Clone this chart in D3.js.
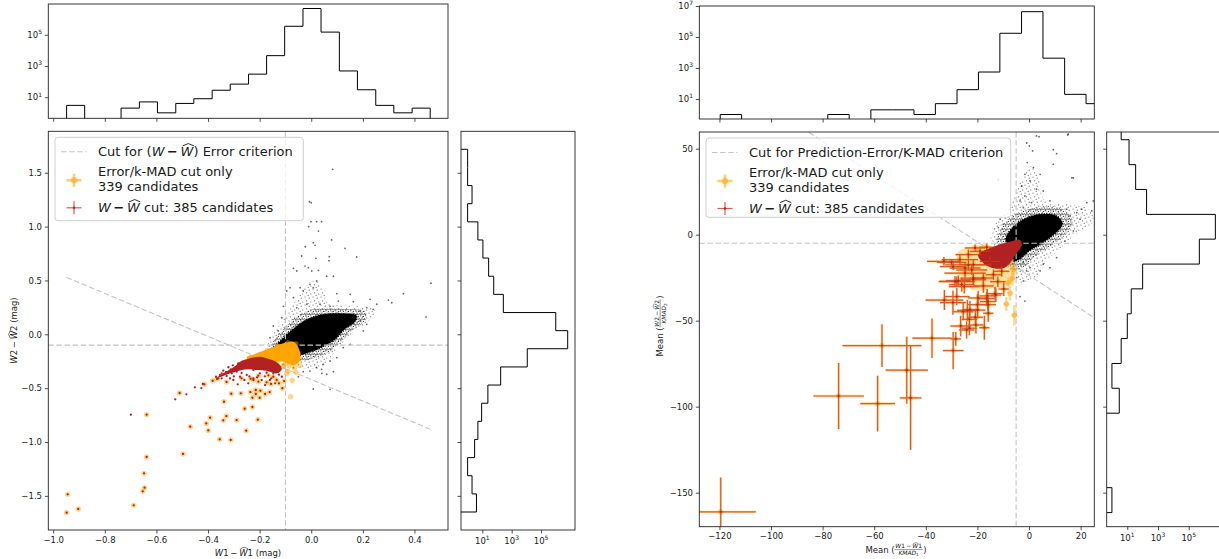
<!DOCTYPE html>
<html>
<head>
<meta charset="utf-8">
<script src="https://cdn.jsdelivr.net/npm/d3@7"></script>
<style>
  html, body { margin: 0; padding: 0; background: #fff; }
  svg { display: block; font-family: "DejaVu Sans", "Liberation Sans", sans-serif; }
</style>
</head>
<body>
<svg id="fig" width="1219" height="559"></svg>
<script>
// ================= Left panel: W - What residuals (mag) =================
const leftXTicks = [-1.0, -0.8, -0.6, -0.4, -0.2, 0.0, 0.2, 0.4];
const leftYTicks = [-1.5, -1.0, -0.5, 0.0, 0.5, 1.0, 1.5];
const leftTopEdges = [-0.948, -0.878, -0.807, -0.737, -0.666, -0.596, -0.525, -0.455, -0.384, -0.314, -0.243,
  -0.173, -0.103, -0.032, 0.038, 0.109, 0.179, 0.250, 0.320, 0.391, 0.461];
const leftTopCounts = [3, 0, 0, 2, 5, 1, 4, 8, 28, 69, 300, 4600, 350000, 4800000, 148000, 480, 30, 3, 1, 2];
const leftSideEdges = [-1.650, -1.482, -1.313, -1.145, -0.976, -0.808, -0.640, -0.471, -0.303, -0.134, 0.034,
  0.202, 0.371, 0.539, 0.708, 0.876, 1.044, 1.213, 1.381, 1.550, 1.718];
const leftSideCounts = [4, 2, 1, 3, 5, 9, 24, 178, 11500, 6500000, 1000000, 270, 60, 27, 11, 5, 1, 2, 1, 1];

// bulk of the sources: dense core, its fringe, and isolated sources
const leftCore = [[-0.14, -0.13], [-0.11, -0.04], [-0.07, 0.05], [-0.03, 0.12], [0.02, 0.17], [0.07, 0.19], [0.13, 0.19],
  [0.175, 0.175], [0.17, 0.12], [0.13, 0.05], [0.09, -0.05], [0.04, -0.12], [-0.01, -0.17], [-0.06, -0.2], [-0.11, -0.19]];
const leftFringeInner = [[-0.16, -0.15], [-0.14, -0.04], [-0.1, 0.07], [-0.055, 0.17], [0.0, 0.23], [0.07, 0.24],
  [0.14, 0.235], [0.21, 0.21], [0.21, 0.13], [0.16, 0.04], [0.115, -0.07], [0.065, -0.17], [0.0, -0.23], [-0.07, -0.25], [-0.13, -0.22]];
const leftFringeOuter = [[-0.17, -0.14], [-0.15, 0.0], [-0.11, 0.13], [-0.07, 0.28], [-0.03, 0.42], [0.01, 0.5], [0.05, 0.42],
  [0.06, 0.3], [0.12, 0.27], [0.2, 0.26], [0.25, 0.22], [0.23, 0.14], [0.17, 0.03], [0.12, -0.08], [0.08, -0.2],
  [0.04, -0.3], [-0.02, -0.32], [-0.08, -0.27], [-0.13, -0.22]];
const leftStray = [[0.083, 1.532], [-0.007, 1.231], [0.000, 1.222], [-0.001, 1.046], [0.021, 1.046], [0.040, 1.046],
  [-0.010, 0.999], [0.028, 0.959], [0.008, 0.851], [0.079, 0.876], [0.015, 0.826], [-0.023, 0.813], [0.131, 0.798],
  [0.176, 0.718], [-0.037, 0.727], [0.070, 0.721], [0.018, 0.706], [0.069, 0.684], [-0.069, 0.613], [-0.056, 0.588],
  [-0.024, 0.634], [-0.011, 0.619], [0.002, 0.588], [0.028, 0.594], [0.060, 0.539], [0.086, 0.539], [0.021, 0.495],
  [-0.005, 0.464], [-0.043, 0.433], [-0.082, 0.433], [-0.095, 0.402], [-0.031, 0.402], [0.008, 0.433], [0.099, 0.377],
  [0.151, 0.371], [0.105, 0.309], [0.163, 0.303], [0.228, 0.325], [0.254, 0.279], [0.215, 0.247], [0.299, 0.318],
  [0.312, 0.293], [0.357, 0.377], [0.464, 0.474], [0.445, 0.161], [-0.108, 0.260], [-0.114, 0.154], [-0.147, 0.077],
  [-0.128, 0.031], [-0.160, -0.031], [-0.069, 0.340], [-0.056, 0.247], [-0.017, 0.279], [0.034, 0.279], [0.073, 0.260],
  [0.189, 0.214], [0.240, 0.232], [-0.108, -0.279], [-0.069, -0.310], [0.047, -0.279], [0.073, -0.248], [0.021, -0.310],
  [0.060, -0.371], [0.040, -0.325], [-0.005, -0.341], [0.099, -0.217], [0.124, -0.124], [0.151, -0.093], [0.202, 0.031],
  [0.215, 0.093], [0.189, 0.124], [0.008, -0.508], [0.073, -0.511], [0.041, -0.362], [0.086, -0.347], [-0.031, -0.347],
  [-0.050, -0.394]];

// candidates: selected by both cuts, by the Error/k-MAD cut only, by the W - What cut only
const leftBoth = [[-0.944, -1.486], [-0.948, -1.656], [-0.903, -1.622], [-0.688, -1.588], [-0.653, -1.458], [-0.646, -1.424],
  [-0.648, -1.291], [-0.638, -1.139], [-0.638, -0.746], [-0.497, -1.111], [-0.469, -0.858], [-0.355, -0.975], [-0.312, -0.981],
  [-0.399, -0.892], [-0.407, -0.827], [-0.392, -0.774], [-0.341, -0.799], [-0.329, -0.759], [-0.289, -0.796], [-0.252, -0.895],
  [-0.207, -0.793], [-0.258, -0.691], [-0.228, -0.675], [-0.338, -0.626], [-0.310, -0.552], [-0.273, -0.548], [-0.236, -0.536],
  [-0.228, -0.589], [-0.215, -0.554], [-0.197, -0.524], [-0.200, -0.589], [-0.179, -0.554], [-0.161, -0.536], [-0.215, -0.517],
  [-0.510, -0.545], [-0.414, -0.464], [-0.382, -0.431], [-0.365, -0.415], [-0.328, -0.443], [-0.235, -0.412], [-0.205, -0.440],
  [-0.156, -0.461], [-0.134, -0.424], [-0.112, -0.501], [-0.105, -0.434], [-0.125, -0.455], [-0.147, -0.394], [-0.166, -0.381],
  [-0.205, -0.384], [-0.270, -0.409], [-0.224, -0.424], [-0.173, -0.446]];
const leftOrangeOnly = [[-0.080, -0.579], [-0.074, -0.427], [-0.059, -0.353], [-0.090, -0.344], [-0.095, -0.362], [-0.108, -0.294],
  [-0.24, -0.22], [-0.2, -0.19], [-0.17, -0.15], [-0.13, -0.11], [-0.09, -0.08], [-0.06, -0.09], [-0.05, -0.18], [-0.05, -0.23],
  [-0.07, -0.27], [-0.1, -0.27], [-0.13, -0.26], [-0.085, -0.295], [-0.065, -0.31], [-0.045, -0.29], [-0.11, -0.295]];
const leftOrangeCluster = [[-0.250, -0.214], [-0.211, -0.177], [-0.160, -0.130], [-0.108, -0.084], [-0.069, -0.069], [-0.046, -0.146],
  [-0.046, -0.254], [-0.069, -0.285], [-0.108, -0.254], [-0.147, -0.254], [-0.192, -0.232], [-0.237, -0.245]];
const leftRedOnly = [[-0.699, -0.746], [-0.527, -0.604], [-0.484, -0.557], [-0.451, -0.492], [-0.426, -0.499], [-0.420, -0.461],
  [-0.304, -0.288], [-0.285, -0.464], [-0.259, -0.424], [-0.312, -0.325], [-0.347, -0.362],
  [-0.369, -0.394], [-0.347, -0.409], [-0.328, -0.387], [-0.308, -0.362], [-0.289, -0.347], [-0.276, -0.394], [-0.250, -0.378],
  [-0.224, -0.409], [-0.199, -0.362], [-0.173, -0.356], [-0.147, -0.362], [-0.128, -0.347], [-0.160, -0.424], [-0.192, -0.424],
  [-0.244, -0.455], [-0.302, -0.424], [-0.263, -0.316], [-0.283, -0.269], [-0.321, -0.306], [-0.341, -0.338], [-0.354, -0.378],
  [-0.140, -0.455], [-0.179, -0.471], [-0.114, -0.394], [-0.224, -0.331], [-0.33, -0.35], [-0.30, -0.39], [-0.27, -0.36],
  [-0.24, -0.39], [-0.21, -0.40], [-0.18, -0.39], [-0.155, -0.41], [-0.125, -0.375], [-0.36, -0.41], [-0.315, -0.41],
  [-0.26, -0.29], [-0.235, -0.275], [-0.205, -0.26], [-0.185, -0.30], [-0.155, -0.30], [-0.295, -0.33]];
const leftRedCluster = [[-0.276, -0.254], [-0.237, -0.223], [-0.199, -0.208], [-0.160, -0.232], [-0.128, -0.269], [-0.114, -0.325],
  [-0.134, -0.362], [-0.173, -0.338], [-0.211, -0.331], [-0.244, -0.325], [-0.276, -0.335], [-0.31, -0.36], [-0.365, -0.405],
  [-0.35, -0.375], [-0.31, -0.32], [-0.295, -0.295]];

// selection thresholds
const leftCutX = -0.1, leftCutY = -0.1;
const leftCutDiag = [[-0.948, 0.528], [0.461, -0.881]];

// ================= Right panel: residuals in units of k-MAD =================
const rightXTicks = [-120, -100, -80, -60, -40, -20, 0, 20];
const rightYTicks = [-150, -100, -50, 0, 50];
const rightTopEdges = [-119.7, -111.4, -103.0, -94.7, -86.3, -78.0, -69.7, -61.3, -53.0, -44.6, -36.3, -27.9, -19.6, -11.3,
  -2.9, 5.4, 13.8, 22.1, 30.5];
const rightTopCounts = [1, 0, 0, 0, 0, 1, 0, 2, 2, 1, 5, 40, 550, 174000, 4300000, 4300, 20, 5];
const rightSideEdges = [-161.6, -147.1, -132.7, -118.2, -103.8, -89.3, -74.9, -60.4, -46.0, -31.5, -17.1, -2.6, 11.8, 26.3,
  40.7, 55.2, 69.6];
const rightSideCounts = [1, 0, 0, 0, 3, 1, 4, 10, 18, 100, 490000, 5400000, 180, 35, 13, 4];

const rightCore = [[-9.0, -2.5], [-5.0, 6.0], [0.4, 10.5], [5.5, 12.0], [10.5, 11.0], [13.0, 6.5], [11.0, 2.0], [5.5, -4.5],
  [0.4, -9.0], [-3.5, -14.0], [-6.0, -15.5], [-7.5, -8.0]];
const rightFringeInner = [[-12.5, -3], [-8, 9], [0, 15], [6, 16.5], [13, 15], [17, 8], [14.5, 0.5], [8, -7], [2, -13], [-2, -19],
  [-7, -20], [-10, -11]];
const rightFringeOuter = [[-15, -2], [-12, 9], [-7, 18], [-3, 32], [1, 40], [4, 32], [6, 20], [14, 18], [23, 15], [25, 8],
  [19, 1], [13, -7], [7, -15], [3, -24], [-3, -28], [-8, -19]];
const rightStray = [[2.9, 57.4], [3.9, 57.0], [15.0, 58.0], [0.1, 51.6], [1.4, 48.7], [-0.7, 41.9], [1.7, 39.0], [10.7, 47.1],
  [4.3, 35.1], [-1.6, 35.1], [9.4, 40.9], [16.6, 33.1], [0.4, 31.2], [-2.8, 28.3], [2.9, 26.4], [5.5, 25.4], [-1.6, 22.5],
  [-3.5, 19.6], [8.1, 19.6], [14.6, 14.8], [18.5, 12.8], [22.4, 18.6], [20.4, 14.8], [24.3, 13.8], [24.9, 19.6], [15.9, 10.9],
  [19.8, 9.0], [-11.2, 9.0], [-11.9, 4.1], [-10.0, 6.0], [-4.8, 11.9], [-2.2, 15.7], [1.0, 18.6], [-5.4, 2.2], [-2.2, -16.3],
  [0.4, -19.2], [5.5, -17.2], [8.1, -19.2], [4.3, -21.1], [-0.9, -21.1], [10.7, -13.4], [13.9, -3.7], [17.2, 2.2], [-4.8, -25.0],
  [-2.2, -26.9], [-6.1, -17.2], [-0.9, 53.3], [9.4, 49.4], [15.2, 58.5], [17.2, 33.0], [-11.9, 32.0], [-3.5, -36.0], [-1.6, -38.6]];

// candidates as [x, y, xerr, yerr]
const rightBoth = [[-119.5, -161.2, 13.6, 20], [-73.8, -93.8, 9.8, 19.2], [-58.7, -98.2, 6.7, 16.2], [-57.0, -64.5, 15.3, 12.4],
  [-47.4, -78.8, 8.2, 19.5], [-45.9, -94.9, 4.2, 30.2], [-37.6, -60.2, 7.6, 11.5], [-29.4, -67.4, 4, 10.8], [-28.4, -60.6, 2, 4],
  [-32.8, -38.0, 7.3, 5.8], [-29.5, -39.5, 5, 7], [-28.0, -36.0, 5, 5], [-23.9, -44.0, 4, 6], [-25.5, -44.8, 4, 5],
  [-23.1, -49.2, 3, 5], [-26.5, -53.1, 4, 6], [-24.2, -55.4, 3, 5], [-23.1, -54.4, 3, 4], [-20.6, -52.5, 3, 5],
  [-17.3, -54.1, 2, 7], [-20.0, -40.7, 4, 6], [-19.9, -43.8, 3, 5], [-20.8, -48.0, 3, 5], [-15.8, -45.7, 2, 5],
  [-16.0, -38.9, 3, 5], [-16.2, -35.6, 3, 4], [-12.9, -35.1, 2, 4], [-9.8, -31.6, 2, 4], [-12.1, -27.3, 3, 3],
  [-25.1, -30.2, 6, 4], [-28.0, -27.3, 7, 3], [-23.5, -17.6, 9, 3], [-24.8, -22.4, 8, 3], [-21.6, -25.3, 5, 3],
  [-17.7, -29.8, 4, 4], [-22.2, -20.5, 6, 3], [-13.2, -34.3, 3, 4], [-16.4, -37.2, 3, 4], [-15.8, -40.7, 3, 4],
  [-19.7, -36.8, 4, 4], [-22.9, -43.6, 3, 5], [-26.1, -29.1, 5, 4], [-28.7, -27.1, 6, 3], [-21.6, -26.2, 5, 3],
  [-17.7, -25.2, 4, 3], [-13.8, -23.3, 3, 3], [-10.6, -21.3, 3, 3], [-24.8, -19.4, 6, 3], [-21.6, -17.4, 5, 3],
  [-15.1, -15.5, 4, 3], [-26.8, -14.5, 7, 3], [-23.5, -11.6, 5, 3], [-19.0, -9.7, 4, 2], [-20.9, -7.7, 4, 2],
  [-16.4, -7.3, 3, 2], [-33.0, -15.5, 6.5, 2.5], [-30.0, -16.1, 5.8, 2], [-29.4, -18.6, 5.2, 2], [-27.4, -26.7, 4.8, 3]];
const rightOrangeOnly = [[-5.7, -46.9, 1, 6], [-8.8, -40.3, 1, 4], [-7.4, -34.1, 1, 4], [-6.5, -25.6, 1, 4],
  [-6.0, -20.0, 1, 3], [-7.0, -15.0, 1, 2], [-8.0, -28.0, 1, 3]];
const rightOrangeCluster = [[-27.4, -9.9], [-20.3, -6.6], [-16.4, -6.0], [-6.7, -14.7], [-5.4, -24.4], [-8.0, -29.2],
  [-13.8, -31.2], [-21.6, -32.2], [-26.8, -24.4], [-28.0, -16.6]];
const rightRedCluster = [[-19.7, -11.8], [-13.8, -7.0], [-7.4, -4.1], [-3.5, -3.1], [-2.8, -6.0], [-5.4, -11.8], [-7.4, -16.6],
  [-10.0, -19.5], [-13.8, -19.5], [-17.7, -16.6]];

const rightCutX = -5, rightCutY = -5;
const rightCutDiag = [[-130, 103.0], [30, -52.9]];

// ================= drawing =================
const svg = d3.select("#fig");
const defs = svg.append("defs");
const INK = "#1a1a1a";
const ORANGE = "#ffa500", RED = "#b22222", REDBAR = "#cc3a1c", CUT = "#c4c4c4";
const TICKFS = 8.5;

// speckle fills standing in for the unresolved crowd of faint sources
function speckle(id, step, dots, op, r) {
  const p = defs.append("pattern").attr("id", id).attr("patternUnits", "userSpaceOnUse")
    .attr("width", step).attr("height", step);
  dots.forEach(d => p.append("circle").attr("cx", d[0]).attr("cy", d[1]).attr("r", r).attr("fill", "#000").attr("opacity", op));
}
speckle("speckDense", 5, [[0.8, 0.8], [3.4, 1.4], [2.0, 3.1], [4.4, 3.8], [0.9, 4.4], [3.0, 4.6]], 0.75, 0.65);
speckle("speckSparse", 8, [[1, 1], [5.2, 2.2], [2.6, 4.8], [6.8, 6.0], [4.2, 7.3]], 0.6, 0.6);

function addClip(id, b) {
  defs.append("clipPath").attr("id", id).append("rect")
    .attr("x", b.x0).attr("y", b.y0).attr("width", b.x1 - b.x0).attr("height", b.y1 - b.y0);
}
function frame(b) {
  svg.append("rect").attr("x", b.x0).attr("y", b.y0).attr("width", b.x1 - b.x0).attr("height", b.y1 - b.y0)
    .attr("fill", "none").attr("stroke", "#222").attr("stroke-width", 0.9);
}
function styleAxis(g) {
  g.attr("font-family", null).attr("font-size", null);
  g.select(".domain").remove();
  g.selectAll(".tick line").attr("stroke", "#222").attr("stroke-width", 0.8);
  g.selectAll(".tick text").attr("font-size", TICKFS).attr("fill", INK);
}
function powLabel(parent, x, y, exp, anchor) {
  const t = parent.append("text").attr("x", x).attr("y", y).attr("font-size", TICKFS)
    .attr("fill", INK).attr("text-anchor", anchor);
  t.append("tspan").text("10");
  t.append("tspan").text(exp).attr("font-size", 6).attr("dy", -3.6);
}
function mathText(parent, x, y, segs, size, anchor) {
  const t = parent.append("text").attr("x", x).attr("y", y).attr("font-size", size)
    .attr("fill", INK).attr("text-anchor", anchor || "start");
  let shift = 0;
  segs.forEach(s => {
    const sh = s.sub ? 0.22 * size : 0;
    const ts = t.append("tspan").text(s.t);
    if (sh !== shift) { ts.attr("dy", sh - shift); shift = sh; }
    if (s.it) ts.attr("font-style", "italic");
    if (s.b) ts.attr("font-weight", "bold");
    if (s.sub) ts.attr("font-size", size * 0.7);
  });
  let idx = 0;
  segs.forEach(s => {
    if (s.hat) {
      const e = t.node().getExtentOfChar(idx);
      const x0 = e.x + e.width * 0.16, x1 = e.x + e.width * 1.04;
      const yb = y - size * 0.80, ya = y - size * 0.98;
      parent.append("path").attr("d", `M${x0},${yb}L${(x0 + x1) / 2},${ya}L${x1},${yb}`)
        .attr("fill", "none").attr("stroke", INK).attr("stroke-width", size * 0.07);
    }
    idx += s.t.length;
  });
  return t;
}
function fracLabel(parent, num, den, size) {
  const g = parent.append("g");
  const a = g.append("text").attr("font-size", size).attr("fill", INK).text("Mean (");
  const wa = a.node().getComputedTextLength();
  const fs = size * 0.7;
  const bar = -size * 0.34;
  const ng = g.append("g"), dg = g.append("g");
  mathText(ng, 0, bar - 1.2, num, fs);
  mathText(dg, 0, bar + 1.0 + fs * 0.74, den, fs);
  const wn = ng.node().getBBox().width, wd = dg.node().getBBox().width;
  const fw = Math.max(wn, wd) + 1.2;
  ng.attr("transform", `translate(${wa + (fw - wn) / 2},0)`);
  dg.attr("transform", `translate(${wa + (fw - wd) / 2},0)`);
  g.append("line").attr("x1", wa).attr("x2", wa + fw).attr("y1", bar).attr("y2", bar)
    .attr("stroke", INK).attr("stroke-width", 0.45);
  const c = g.append("text").attr("x", wa + fw + 0.4).attr("font-size", size).attr("fill", INK).text(")");
  const total = wa + fw + 0.4 + c.node().getComputedTextLength();
  g.attr("transform", `translate(${-total / 2},0)`);
}

function stepColumns(edges, counts, xs, ys) {
  const base = ys.range()[0] + 3;
  const yv = c => c > 0 ? ys(c) : base;
  const pts = [[xs(edges[0]), base]];
  counts.forEach((c, i) => { pts.push([xs(edges[i]), yv(c)], [xs(edges[i + 1]), yv(c)]); });
  pts.push([xs(edges[edges.length - 1]), base]);
  return d3.line()(pts);
}
function stepRows(edges, counts, xs, ys) {
  const base = xs.range()[0] - 3;
  const xv = c => c > 0 ? xs(c) : base;
  const pts = [[base, ys(edges[0])]];
  counts.forEach((c, i) => { pts.push([xv(c), ys(edges[i])], [xv(c), ys(edges[i + 1])]); });
  pts.push([base, ys(edges[edges.length - 1])]);
  return d3.line()(pts);
}

const blob = d3.line().curve(d3.curveCatmullRomClosed.alpha(0.5));

function panel(cfg) {
  const { M, T, S, xs, ys, topY, sideX, id } = cfg;
  ["m", "t", "s"].forEach((k, i) => addClip(id + k, [M, T, S][i]));

  // ---- main scatter ----
  const g = svg.append("g").attr("clip-path", `url(#${id}m)`);
  const P = d => [xs(d[0]), ys(d[1])];
  g.append("path").attr("d", blob(cfg.fringeOuter.map(P))).attr("fill", "url(#speckSparse)");
  g.append("path").attr("d", blob(cfg.fringeInner.map(P))).attr("fill", "url(#speckDense)");
  g.append("path").attr("d", blob(cfg.core.map(P))).attr("fill", "#000")
    .attr("stroke", "#000").attr("stroke-width", 1.5).attr("stroke-dasharray", "1,1.5");
  g.selectAll(null).data(cfg.stray).join("circle")
    .attr("cx", d => xs(d[0])).attr("cy", d => ys(d[1])).attr("r", 0.9).attr("fill", "#000").attr("opacity", 0.6);

  // cut lines
  const dash = sel => sel.attr("stroke", CUT).attr("stroke-width", 1.1).attr("stroke-dasharray", "5.5,2.6").attr("fill", "none");
  dash(g.append("line").attr("x1", xs(cfg.cutX)).attr("x2", xs(cfg.cutX)).attr("y1", M.y0).attr("y2", M.y1));
  dash(g.append("line").attr("y1", ys(cfg.cutY)).attr("y2", ys(cfg.cutY)).attr("x1", M.x0).attr("x2", M.x1));
  dash(g.append("line").attr("x1", xs(cfg.diag[0][0])).attr("y1", ys(cfg.diag[0][1]))
    .attr("x2", xs(cfg.diag[1][0])).attr("y2", ys(cfg.diag[1][1])));

  // Error/k-MAD candidates
  g.append("path").attr("d", blob(cfg.orangeCluster.map(P))).attr("fill", ORANGE).attr("opacity", cfg.orangeClusterOp);
  const orangeAll = cfg.both.concat(cfg.orangeOnly);
  if (cfg.errors) {
    const eb = g.append("g").attr("stroke", ORANGE).attr("stroke-width", 2.4).attr("opacity", 0.45);
    orangeAll.forEach(d => {
      eb.append("line").attr("x1", xs(d[0] - d[2])).attr("x2", xs(d[0] + d[2])).attr("y1", ys(d[1])).attr("y2", ys(d[1]));
      eb.append("line").attr("y1", ys(d[1] - d[3])).attr("y2", ys(d[1] + d[3])).attr("x1", xs(d[0])).attr("x2", xs(d[0]));
    });
  }
  g.selectAll(null).data(orangeAll).join("circle")
    .attr("cx", d => xs(d[0])).attr("cy", d => ys(d[1])).attr("r", cfg.orangeR).attr("fill", ORANGE).attr("opacity", 0.45);

  // W - What candidates
  g.append("path").attr("d", blob(cfg.redCluster.map(P))).attr("fill", RED);
  const redAll = cfg.both.concat(cfg.redOnly);
  if (cfg.errors) {
    const eb = g.append("g").attr("stroke", REDBAR).attr("stroke-width", 1.2).attr("opacity", 0.8);
    redAll.forEach(d => {
      eb.append("line").attr("x1", xs(d[0] - d[2])).attr("x2", xs(d[0] + d[2])).attr("y1", ys(d[1])).attr("y2", ys(d[1]));
      eb.append("line").attr("y1", ys(d[1] - d[3])).attr("y2", ys(d[1] + d[3])).attr("x1", xs(d[0])).attr("x2", xs(d[0]));
    });
  }
  g.selectAll(null).data(redAll).join("circle")
    .attr("cx", d => xs(d[0])).attr("cy", d => ys(d[1])).attr("r", 1.15).attr("fill", RED);

  frame(M);
  const ax = svg.append("g").attr("transform", `translate(0,${M.y1})`)
    .call(d3.axisBottom(xs).tickValues(cfg.xTicks).tickFormat(d3.format(cfg.fmt)).tickSize(3.5).tickPadding(3.2));
  styleAxis(ax);
  const ay = svg.append("g").attr("transform", `translate(${M.x0},0)`)
    .call(d3.axisLeft(ys).tickValues(cfg.yTicks).tickFormat(d3.format(cfg.fmt)).tickSize(3.5).tickPadding(2.8));
  styleAxis(ay);

  // ---- top histogram ----
  svg.append("path").attr("clip-path", `url(#${id}t)`)
    .attr("d", stepColumns(cfg.topEdges, cfg.topCounts, xs, topY))
    .attr("fill", "none").attr("stroke", "#000").attr("stroke-width", 1);
  frame(T);
  const tx = svg.append("g").attr("transform", `translate(0,${T.y1})`)
    .call(d3.axisBottom(xs).tickValues(cfg.xTicks).tickFormat("").tickSize(3.5));
  styleAxis(tx);
  const ty = svg.append("g").attr("transform", `translate(${T.x0},0)`)
    .call(d3.axisLeft(topY).tickValues(cfg.topTicks).tickFormat("").tickSize(3.5));
  styleAxis(ty);
  cfg.topTicks.forEach(v => powLabel(svg, T.x0 - 6.3, topY(v) + 3, String(Math.round(Math.log10(v))), "end"));

  // ---- side histogram ----
  svg.append("path").attr("clip-path", `url(#${id}s)`)
    .attr("d", stepRows(cfg.sideEdges, cfg.sideCounts, sideX, ys))
    .attr("fill", "none").attr("stroke", "#000").attr("stroke-width", 1);
  frame(S);
  const sx = svg.append("g").attr("transform", `translate(0,${S.y1})`)
    .call(d3.axisBottom(sideX).tickValues([10, 1e3, 1e5]).tickFormat("").tickSize(3.5));
  styleAxis(sx);
  const sy = svg.append("g").attr("transform", `translate(${S.x0},0)`)
    .call(d3.axisLeft(ys).tickValues(cfg.yTicks).tickFormat("").tickSize(3.5));
  styleAxis(sy);
  [10, 1e3, 1e5].forEach(v => powLabel(svg, sideX(v), S.y1 + 14, String(Math.round(Math.log10(v))), "middle"));
}

// ---------- left panel ----------
const LM = { x0: 48.3, x1: 448, y0: 131.3, y1: 530 };
const LT = { x0: 48.3, x1: 448, y0: 4, y1: 118.3 };
const LS = { x0: 461, x1: 575, y0: 131.3, y1: 530 };
const lx = d3.scaleLinear([-1.019, 0.530], [LM.x0, LM.x1]);
const ly = d3.scaleLinear([-1.817, 1.885], [LM.y1, LM.y0]);
panel({
  id: "L", M: LM, T: LT, S: LS, xs: lx, ys: ly,
  topY: d3.scaleLog([10 ** -0.35, 10 ** 6.97], [LT.y1, LT.y0]),
  sideX: d3.scaleLog([10 ** -0.45, 10 ** 7.31], [LS.x0, LS.x1]),
  xTicks: leftXTicks, yTicks: leftYTicks, fmt: ".1f", topTicks: [10, 1e3, 1e5],
  topEdges: leftTopEdges, topCounts: leftTopCounts, sideEdges: leftSideEdges, sideCounts: leftSideCounts,
  core: leftCore, fringeInner: leftFringeInner, fringeOuter: leftFringeOuter, stray: leftStray,
  cutX: leftCutX, cutY: leftCutY, diag: leftCutDiag,
  both: leftBoth, orangeOnly: leftOrangeOnly, redOnly: leftRedOnly,
  orangeCluster: leftOrangeCluster, redCluster: leftRedCluster, orangeClusterOp: 1, orangeR: 2.7, errors: false
});

// ---------- right panel ----------
const RM = { x0: 699.3, x1: 1094.3, y0: 132, y1: 526.7 };
const RT = { x0: 699.3, x1: 1094.3, y0: 6, y1: 119 };
const RS = { x0: 1106.7, x1: 1221, y0: 132, y1: 526.7 };
const rx = d3.scaleLinear([-127.8, 25.3], [RM.x0, RM.x1]);
const ry = d3.scaleLinear([-169.8, 59.7], [RM.y1, RM.y0]);
panel({
  id: "R", M: RM, T: RT, S: RS, xs: rx, ys: ry,
  topY: d3.scaleLog([10 ** -0.29, 1e7], [RT.y1, RT.y0]),
  sideX: d3.scaleLog([10 ** -0.34, 10 ** 7.1], [RS.x0, RS.x1]),
  xTicks: rightXTicks, yTicks: rightYTicks, fmt: "d", topTicks: [10, 1e3, 1e5, 1e7],
  topEdges: rightTopEdges, topCounts: rightTopCounts, sideEdges: rightSideEdges, sideCounts: rightSideCounts,
  core: rightCore, fringeInner: rightFringeInner, fringeOuter: rightFringeOuter, stray: rightStray,
  cutX: rightCutX, cutY: rightCutY, diag: rightCutDiag,
  both: rightBoth, orangeOnly: rightOrangeOnly, redOnly: [],
  orangeCluster: rightOrangeCluster, redCluster: rightRedCluster, orangeClusterOp: 0.35, orangeR: 2.8, errors: true
});

// ---------- legends ----------
const MINUS = "\u2009\u2212\u2009";
function legend(box, firstLine) {
  const g = svg.append("g");
  g.append("rect").attr("x", box.x).attr("y", box.y).attr("width", box.w).attr("height", box.h).attr("rx", 3)
    .attr("fill", "#fff").attr("fill-opacity", 0.8).attr("stroke", "#cfcfcf").attr("stroke-width", 1);
  const mx = box.x + 19, tx = box.x + 43;
  g.append("line").attr("x1", box.x + 6).attr("x2", box.x + 31.5).attr("y1", box.y + 14.5).attr("y2", box.y + 14.5)
    .attr("stroke", CUT).attr("stroke-width", 1.1).attr("stroke-dasharray", "5.5,2.6");
  mathText(g, tx, box.y + 19, firstLine, 13);
  // orange errorbar handle
  const oy = box.y + 43;
  const og = g.append("g").attr("stroke", ORANGE).attr("stroke-width", 2.6).attr("opacity", 0.55);
  og.append("line").attr("x1", mx - 7.5).attr("x2", mx + 7.5).attr("y1", oy).attr("y2", oy);
  og.append("line").attr("x1", mx).attr("x2", mx).attr("y1", oy - 6.5).attr("y2", oy + 6.5);
  g.append("circle").attr("cx", mx).attr("cy", oy).attr("r", 3.2).attr("fill", ORANGE).attr("opacity", 0.5);
  g.append("text").attr("x", tx).attr("y", box.y + 38.5).attr("font-size", 13).attr("fill", INK).text("Error/k-MAD cut only");
  g.append("text").attr("x", tx).attr("y", box.y + 53.5).attr("font-size", 13).attr("fill", INK).text("339 candidates");
  // red errorbar handle
  const ry2 = box.y + 70.5;
  const rg = g.append("g").attr("stroke", REDBAR).attr("stroke-width", 1.2).attr("opacity", 0.8);
  rg.append("line").attr("x1", mx - 7.5).attr("x2", mx + 7.5).attr("y1", ry2).attr("y2", ry2);
  rg.append("line").attr("x1", mx).attr("x2", mx).attr("y1", ry2 - 6.5).attr("y2", ry2 + 6.5);
  g.append("circle").attr("cx", mx).attr("cy", ry2).attr("r", 1.2).attr("fill", RED);
  mathText(g, tx, box.y + 75, [{ t: "W", it: 1 }, { t: MINUS, b: 1 }, { t: "W", it: 1, hat: 1 }, { t: " cut: 385 candidates" }], 13);
}
legend({ x: 55, y: 137.3, w: 248.3, h: 83.4 },
  [{ t: "Cut for (" }, { t: "W", it: 1 }, { t: MINUS, b: 1 }, { t: "W", it: 1, hat: 1 }, { t: ") Error criterion" }]);
legend({ x: 706, y: 138, w: 304.7, h: 79.3 }, [{ t: "Cut for Prediction-Error/K-MAD criterion" }]);

// ---------- axis titles ----------
mathText(svg, 248, 555.5, [{ t: "W", it: 1 }, { t: "1" }, { t: MINUS }, { t: "W", it: 1, hat: 1 }, { t: "1 (mag)" }], TICKFS, "middle");
const ylab = svg.append("g").attr("transform", "translate(17,330.5) rotate(-90)");
mathText(ylab, 0, 0, [{ t: "W", it: 1 }, { t: "2" }, { t: MINUS }, { t: "W", it: 1, hat: 1 }, { t: "2 (mag)" }], TICKFS, "middle");

const rxl = svg.append("g").attr("transform", "translate(896,552.5)");
fracLabel(rxl, [{ t: "W", it: 1 }, { t: "1" }, { t: MINUS }, { t: "W", it: 1, hat: 1 }, { t: "1" }],
  [{ t: "KMAD", it: 1 }, { t: "1", sub: 1 }], TICKFS);
const ryl = svg.append("g").attr("transform", "translate(663,326) rotate(-90)");
fracLabel(ryl, [{ t: "W", it: 1 }, { t: "2" }, { t: MINUS }, { t: "W", it: 1, hat: 1 }, { t: "2" }],
  [{ t: "KMAD", it: 1 }, { t: "2", sub: 1 }], TICKFS);
</script>
</body>
</html>
